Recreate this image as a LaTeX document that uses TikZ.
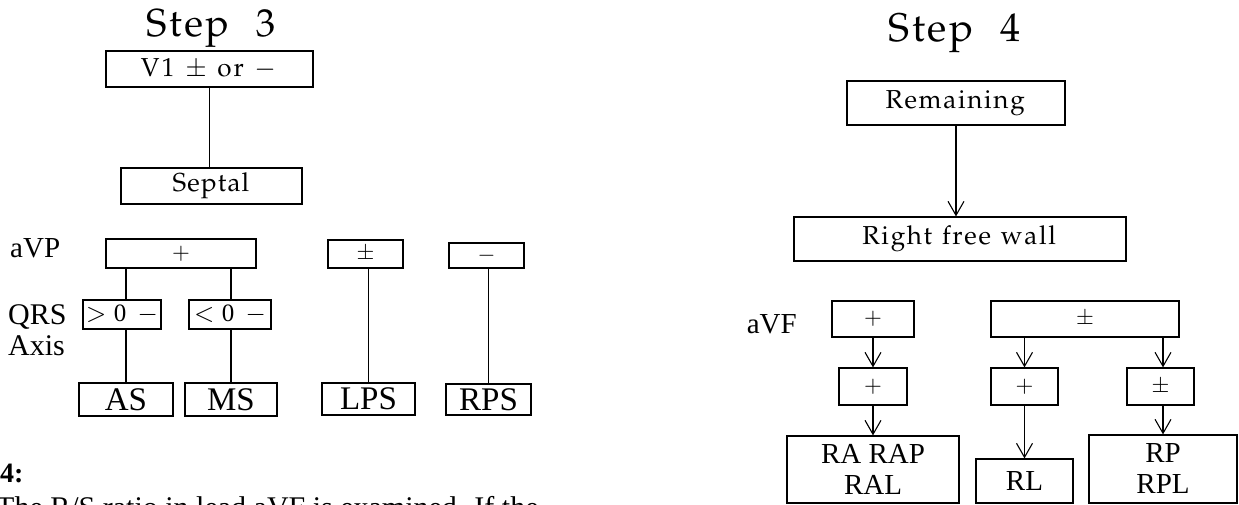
\documentclass[tikz,border=0pt]{standalone}
\usepackage{mathpazo}
\usepackage{fontspec}
\setmainfont{Liberation Serif}
\usetikzlibrary{arrows.meta}
\newcommand\palf[1]{\fontencoding{OT1}\fontfamily{ppl}\fontsize{#1}{#1}\selectfont}
\newcommand\tmf[1]{\fontsize{#1}{#1}\selectfont}
\def\lspstop{\relax}
\newcommand\lsp[2]{\def\lspk{#1}\lspA#2\relax}
\def\lspA#1{\def\lsptmp{#1}\ifx\lsptmp\lspstop\else#1\kern\lspk\expandafter\lspA\fi}
\tikzset{
  bx/.style={draw, line width=1.2pt, inner sep=0pt, align=center},
  ln/.style={line width=1.1pt},
  arr/.style={line width=1.1pt, -{Straight Barb[length=14pt,width=16pt]}},
  lbl/.style={inner sep=0pt, anchor=base west},
  two/.style={font={\fontsize{29}{31}\selectfont}},
}
\newcommand\bx[7][]{\node[bx, #1, minimum width={#5-#3}, minimum height={#6-#4}] (#2) at ({(#3+#5)/2},{(#4+#6)/2}) {#7};}
\begin{document}
\begin{tikzpicture}[x=1pt,y=-1pt]
\useasboundingbox (0,0) rectangle (1239,505);
\clip (0,0) rectangle (1239,505);
% ---------- Step 3 ----------
\node[inner sep=0pt, anchor=base] (t3) at (212,37) {\palf{39}\lsp{2.5pt}{Step~~3}};
\bx{v1}{106}{51}{313}{87}{\palf{26}\lsp{2pt}{V1~{$\pm$}~or~{$-$}}}
\bx{sep}{121}{168}{302}{204}{\palf{26}\lsp{1.2pt}{Septal}}
\bx{pl}{106}{239}{256}{268}{\tmf{22}$+$}
\bx{pm}{328}{240}{403}{268}{\tmf{22}$\pm$}
\bx{mi}{449}{243}{524}{268}{\tmf{22}$-$}
\bx{gt}{83}{300}{161}{329}{\tmf{25}$>$\hspace{7pt}0\hspace{11pt}$-$}
\bx{lt}{189}{300}{271}{329}{\tmf{25}$<$\hspace{7pt}0\hspace{11pt}$-$}
\bx{as}{79}{383}{173}{416}{\tmf{33}AS}
\bx{ms}{185}{383}{277}{416}{\tmf{33}MS}
\bx{lps}{322}{383}{415}{415}{\tmf{33}LPS}
\bx{rps}{446}{384}{531}{415}{\tmf{33}RPS}
\node[lbl] (avp) at (10,257) {\tmf{29}aVP};
\node[lbl] (qrs) at (8,324) {\tmf{30}QRS};
\node[lbl] (axis) at (8,355) {\tmf{30}Axis};
\draw[ln] (v1.south) -- (v1.south |- sep.north);
\draw[ln] (as.north |- pl.south) -- (as.north |- gt.north);
\draw[ln] (as.north |- gt.south) -- (as.north);
\draw[ln] (ms.north |- pl.south) -- (ms.north |- lt.north);
\draw[ln] (ms.north |- lt.south) -- (ms.north);
\draw[ln] (lps.north |- pm.south) -- (lps.north);
\draw[ln] (rps.north |- mi.south) -- (rps.north);
% ---------- Step 4 ----------
\node[inner sep=0pt, anchor=base] (t4) at (956,42) {\palf{40}\lsp{2.5pt}{Step~~4}};
\bx{rem}{847}{81}{1065}{125}{\palf{26}\lsp{1.7pt}{Remaining}}
\bx{rfw}{794}{217}{1126}{261}{\palf{26}\lsp{1.7pt}{Right~free~wall}}
\bx{p1}{832}{301}{914}{337}{\tmf{22}$+$}
\bx{pmb}{991}{301}{1179}{337}{\tmf{22}$\pm$}
\bx{p2}{839}{368}{907}{405}{\tmf{22}$+$}
\bx{p3}{991}{368}{1058}{405}{\tmf{22}$+$}
\bx{pmf}{1127}{368}{1194}{405}{\tmf{22}$\pm$}
\bx[two]{ra}{787}{436}{959}{503}{RA RAP\\RAL}
\bx{rl}{976}{459}{1073}{503}{\tmf{29}RL}
\bx[two]{rp}{1089}{435}{1237}{503}{RP\\RPL}
\node[inner sep=0pt, anchor=base east] (avf) at (797,333) {\tmf{29}aVF};
\draw[arr] (rem.south) -- (rem.south |- rfw.north);
\draw[arr] (p1) -- (p2);
\draw[arr] (p2) -- (ra);
\draw[arr] (p3.north |- pmb.south) -- (p3.north);
\draw[arr] (rp.north |- pmb.south) -- (rp.north |- pmf.north);
\draw[arr] (rl.north |- p3.south) -- (rl.north);
\draw[arr] (rp.north |- pmf.south) -- (rp.north);
% ---------- cut-off page text ----------
\node[lbl] (h4) at (0,482) {\tmf{28}\bfseries 4:};
\node[lbl] (par) at (-4,517) {\tmf{30}The R/S ratio in lead aVF is examined. If the};
\end{tikzpicture}
\end{document}
